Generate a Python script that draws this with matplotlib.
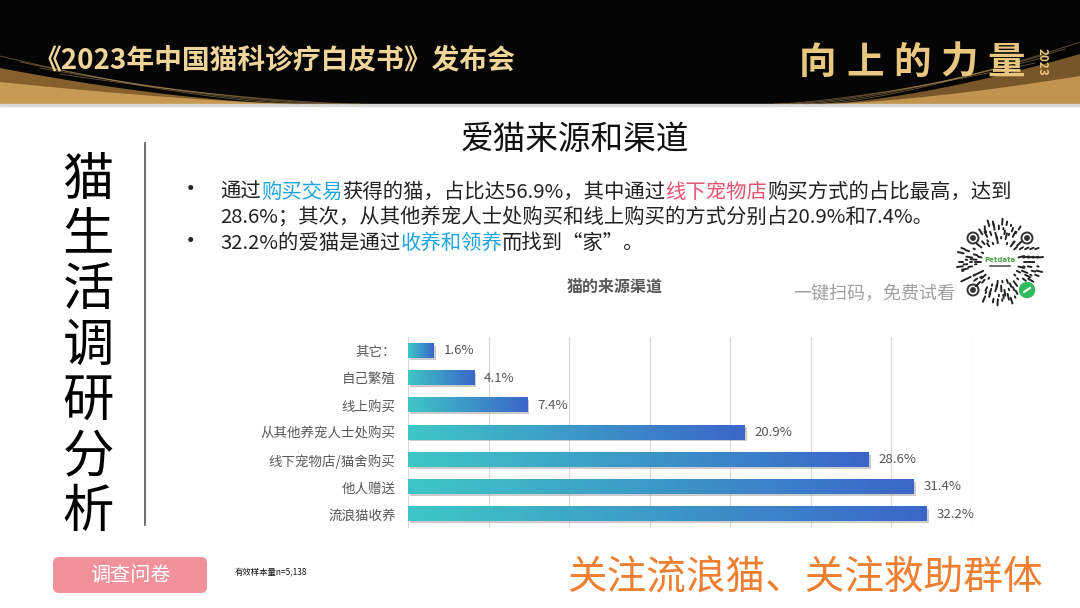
import numpy as np
import matplotlib.pyplot as plt
from matplotlib.patches import Rectangle, FancyBboxPatch, Polygon, Circle
from matplotlib.colors import LinearSegmentedColormap

plt.rcParams['font.family'] = ['Noto Sans CJK SC', 'DejaVu Sans']

# 图表数据
categories = ['流浪猫收养', '他人赠送', '线下宠物店/猫舍购买', '从其他养宠人士处购买',
              '线上购买', '自己繁殖', '其它：']
values = [32.2, 31.4, 28.6, 20.9, 7.4, 4.1, 1.6]
x_grid = [0, 5, 10, 15, 20, 25, 30, 35]

fig = plt.figure(figsize=(10.8, 6.08), dpi=100)
fig.patch.set_facecolor('white')

# 背景坐标系（像素坐标）
bg = fig.add_axes([0, 0, 1, 1], zorder=0)
bg.set_xlim(0, 1080)
bg.set_ylim(608, 0)
bg.axis('off')

# 顶部黑色横幅
bg.add_patch(Rectangle((0, 0), 1080, 104, color='#050505'))
xs = np.linspace(0, 300, 60)
curve = 104 - 36 * (1 - xs / 300) ** 1.6
bg.add_patch(Polygon(np.column_stack([np.r_[xs, 300, 0], np.r_[curve, 104, 104]]),
                     color='#9c7033', alpha=0.85, lw=0))
curve2 = 104 - 22 * (1 - xs / 300) ** 1.4
bg.add_patch(Polygon(np.column_stack([np.r_[xs, 300, 0], np.r_[curve2, 104, 104]]),
                     color='#d9a95e', alpha=0.8, lw=0))
for k in range(4):
    bg.plot(xs + 20 * k, 104 - (48 - 6 * k) * (1 - xs / 300) ** 1.5, color='#c8a060',
            lw=0.6, alpha=0.5)
xr = np.linspace(820, 1080, 60)
cr = 104 - 50 * ((xr - 820) / 260) ** 1.5
bg.add_patch(Polygon(np.column_stack([np.r_[xr, 1080, 820], np.r_[cr, 104, 104]]),
                     color='#8c6530', alpha=0.85, lw=0))
cr2 = 104 - 28 * ((xr - 820) / 260) ** 1.5
bg.add_patch(Polygon(np.column_stack([np.r_[xr, 1080, 820], np.r_[cr2, 104, 104]]),
                     color='#d4a45a', alpha=0.8, lw=0))
for k in range(4):
    bg.plot(xr - 15 * k, 104 - (62 - 7 * k) * ((xr - 820) / 260) ** 1.4, color='#c8a060',
            lw=0.6, alpha=0.5)
bg.add_patch(Rectangle((0, 104), 1080, 2, color='#d8d8d8'))

bg.text(34, 60, '《2023年中国猫科诊疗白皮书》发布会', color='#f0d59a', fontsize=20,
        fontweight='bold', va='center', ha='left')
for k, ch in enumerate('向上的力量'):
    bg.text(818 + 47 * k, 62, ch, color='#e9c77f', fontsize=27, fontweight='bold',
            va='center', ha='center')
bg.text(1042, 62, '2023', color='#e9c77f', fontsize=8.5, fontweight='bold',
        va='center', ha='center', rotation=270)

# 左侧竖排标题
for k, ch in enumerate('猫生活调研分析'):
    bg.text(88, 180 + 55.3 * k, ch, fontsize=37, color='black', va='center', ha='center')
bg.plot([145, 145], [143, 525], color='#555555', lw=1.2)

# 标题
bg.text(575, 140, '爱猫来源和渠道', fontsize=23.5, color='#111111', va='center', ha='center')

# 要点文字（按前缀宽度依次排列各色片段）
renderer = fig.canvas.get_renderer()
BLUE = '#1ea5e0'
RED = '#e8546f'
DARK = '#222222'
FS = 14.65


def text_width(s, size):
    t = bg.text(0, 100, s, fontsize=size, va='baseline', ha='left')
    w = t.get_window_extent(renderer=renderer).width
    t.remove()
    return w


def rich_line(x, y, parts, size=FS):
    prefix = ''
    for s, c in parts:
        dx = text_width(prefix, size) if prefix else 0
        bg.text(x + dx, y, s, color=c, fontsize=size, va='baseline', ha='left')
        prefix += s


bg.text(190, 190, '•', fontsize=17, color=DARK, va='center', ha='center')
bg.text(190, 241, '•', fontsize=17, color=DARK, va='center', ha='center')
rich_line(220, 197.8, [('通过', DARK), ('购买交易', BLUE), ('获得的猫，占比达56.9%，其中通过', DARK),
                       ('线下宠物店', RED), ('购买方式的占比最高，达到', DARK)])
rich_line(220, 222.8, [('28.6%；其次，从其他养宠人士处购买和线上购买的方式分别占20.9%和7.4%。', DARK)])
rich_line(220, 248.8, [('32.2%的爱猫是通过', DARK), ('收养和领养', BLUE), ('而找到“家”。', DARK)])

# 二维码装饰
cx, cy = 1000, 262
finders = [(973, 238), (1027, 238), (973, 290)]
logo = (1027, 290)
for k in range(5):
    r0 = 19 + 4.6 * k
    n = 26 + 7 * k
    for j in range(n):
        if (j * 7 + k * 3) % 4 == 0:
            continue
        a = 2 * np.pi * j / n
        ln = 1.5 + 2.2 * ((j * 5 + k) % 3)
        p0 = (cx + r0 * np.cos(a), cy + r0 * np.sin(a))
        p1 = (cx + (r0 + ln) * np.cos(a), cy + (r0 + ln) * np.sin(a))
        near = [np.hypot(p0[0] - fx, p0[1] - fy) < 10 for fx, fy in finders]
        if any(near) or np.hypot(p0[0] - logo[0], p0[1] - logo[1]) < 11:
            continue
        bg.plot([p0[0], p1[0]], [p0[1], p1[1]], color='#222222', lw=1.4,
                solid_capstyle='round')
for fx, fy in finders:
    bg.add_patch(Circle((fx, fy), 5.5, fill=False, ec='#333333', lw=1.4))
    bg.add_patch(Circle((fx, fy), 2.2, color='#333333'))
bg.add_patch(Circle(logo, 7.5, color='#2dbb5e'))
bg.plot([logo[0] - 3, logo[0] + 3], [logo[1] + 2, logo[1] - 2], color='white', lw=1.5)
bg.text(cx, cy - 2, 'Petdata', fontsize=5, color='#4aa640', fontweight='bold',
        va='center', ha='center', family='DejaVu Sans')
bg.plot([cx - 10, cx + 10], [cy + 4, cy + 4], color='#555555', lw=1.2)
bg.text(874, 294, '一键扫码，免费试看', fontsize=13, color='#a0a0a0', va='center', ha='center')

# 底部
bg.add_patch(FancyBboxPatch((53, 557), 154, 36, boxstyle='round,pad=0,rounding_size=6',
                            fc='#f0919b', ec='none'))
bg.text(130, 575, '调查问卷', fontsize=14.5, color='white', va='center', ha='center')
bg.text(235, 573, '有效样本量n=5,138', fontsize=6, color='#111111', va='center', ha='left')
bg.text(805, 578, '关注流浪猫、关注救助群体', fontsize=28.5, color='#ee7f30',
        va='center', ha='center')

# 图表标题
bg.text(615, 287, '猫的来源渠道', fontsize=11.5, color='#595959', fontweight='bold',
        va='center', ha='center')

# 条形图
ax = fig.add_axes([408 / 1080, 1 - 528 / 608, (972 - 408) / 1080, (528 - 337) / 608],
                  zorder=1)
ax.patch.set_alpha(0)
cmap = LinearSegmentedColormap.from_list('bar', ['#3fc7c6', '#3b66c9'])
grad = np.linspace(0, 1, 256).reshape(1, -1)
h = 0.52
y = np.arange(len(categories))
for i, v in enumerate(values):
    ax.barh(i - 0.07, v, height=h, left=0.12, color='#6f6f6f', alpha=0.35, zorder=2)
    ax.imshow(grad, cmap=cmap, extent=(0, v, i - h / 2, i + h / 2), aspect='auto',
              zorder=3, interpolation='bicubic')
    ax.text(v + 0.6, i, f'{v}%', fontsize=9.5, color='#555555', va='center', ha='left')

for g in x_grid:
    ax.axvline(g, color='#d9d9d9', lw=0.8, zorder=1)
ax.set_xlim(0, 35)
ax.set_ylim(-0.515, len(categories) - 0.485)
ax.set_yticks(y)
ax.set_yticklabels(categories, fontsize=9.7, color='#595959')
ax.tick_params(axis='y', length=0, pad=9)
ax.set_xticks([])
for s in ax.spines.values():
    s.set_visible(False)

plt.savefig('out.png', dpi=100)
